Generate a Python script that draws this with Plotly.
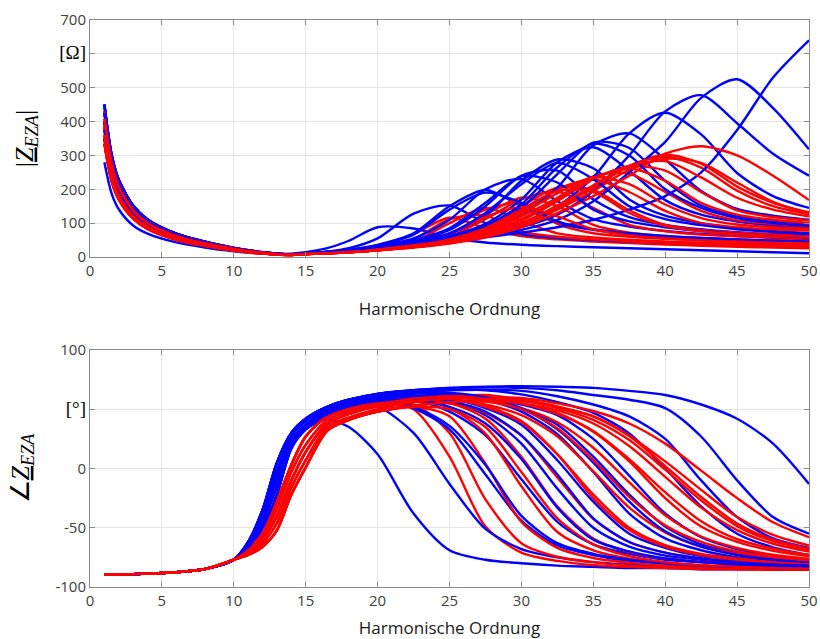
import plotly.graph_objects as go

# ---------------- data ----------------
H_LOW = [1, 1.5, 2, 3, 4, 6, 8, 10, 11, 12, 13, 14]
H_HIGH = [15, 16.5, 18, 20, 22.5, 25, 27.5, 30, 32.5, 35, 37.5, 40, 42.5, 45, 47.5, 50]

# |Z| for h = 1 ... 14
BLUE_MAG_LOW = {
    "early":   [450, 303, 228, 152, 111, 69, 45, 27, 20, 14, 10, 8],
    "em":      [425, 286, 215, 143, 105, 65, 42, 25, 18, 13, 9.5, 7.5],
    "mid":     [400, 270, 203, 135, 99, 61, 40, 24, 17, 12, 9, 7],
    "ml":      [375, 253, 190, 126, 93, 57, 37, 22, 16, 11.5, 8.5, 7],
    "late":    [350, 236, 178, 118, 87, 54, 35, 21, 15, 11, 8, 7],
    "outlier": [280, 188, 141, 93, 69, 43, 28, 17, 13, 10, 9, 10],
}
RED_MAG_LOW = {
    "early": [430, 290, 218, 145, 106, 66, 43, 26, 19, 13, 9, 7],
    "em":    [408, 275, 206, 137, 100, 62, 40, 24, 17, 12.5, 8.5, 7],
    "mid":   [385, 260, 195, 130, 95, 59, 38, 23, 16, 12, 8, 6.5],
    "ml":    [360, 242, 182, 121, 89, 55, 35, 21, 15, 11, 7.5, 6],
    "late":  [335, 225, 170, 113, 83, 51, 33, 19, 14, 10, 7, 6],
}
# angle for h = 1 ... 10 (all curves), then h = 11 ... 14
ANG_START = [-89.6, -89.5, -89.4, -89.1, -88.7, -87.5, -84.8, -77]
BLUE_ANG_RISE = {
    "early":   [-62, -35, 5, 30],
    "em":      [-63, -38, -2, 27],
    "mid":     [-65, -42, -8, 23],
    "ml":      [-67, -46, -15, 20],
    "late":    [-69, -50, -22, 17],
    "outlier": [-65, -42, -8, 20],
}
RED_ANG_RISE = {
    "early": [-68, -55, -28, 3],
    "em":    [-69, -57, -34, -3],
    "mid":   [-70, -60, -40, -10],
    "ml":    [-72, -63, -46, -16],
    "late":  [-73, -66, -52, -22],
}

BLUE_KIND = ["outlier", "late", "mid", "early", "mid", "late", "early",
             "mid", "late", "early", "mid", "early", "early",
             "em", "ml", "em", "ml"]
BLUE_MAG_HIGH = [
    [14, 26, 48, 88, 84, 57, 43, 36, 32, 29, 26, 23, 20, 17, 14, 11],
    [11, 16, 26, 55, 128, 152, 100, 68, 56, 50, 46, 42, 40, 37, 35, 33],
    [11, 15, 21, 36, 70, 150, 198, 150, 100, 80, 68, 60, 55, 51, 47, 44],
    [11, 15, 20, 32, 55, 110, 200, 230, 165, 112, 90, 77, 68, 62, 57, 52],
    [11, 15, 20, 31, 48, 80, 150, 240, 255, 170, 118, 95, 82, 73, 66, 60],
    [11, 15, 20, 30, 44, 68, 120, 225, 288, 262, 170, 122, 100, 86, 77, 70],
    [11, 14, 19, 30, 42, 62, 98, 170, 280, 324, 255, 168, 125, 105, 93, 85],
    [11, 14, 19, 30, 41, 58, 88, 145, 245, 338, 322, 225, 152, 120, 104, 95],
    [11, 14, 19, 29, 40, 55, 80, 125, 205, 330, 365, 288, 195, 142, 122, 110],
    [11, 14, 19, 29, 39, 52, 72, 100, 150, 235, 365, 426, 362, 248, 180, 145],
    [11, 14, 19, 28, 38, 50, 66, 88, 125, 195, 300, 430, 478, 395, 305, 240],
    [11, 15, 20, 28, 37, 47, 60, 80, 110, 165, 250, 340, 470, 525, 440, 318],
    [11, 15, 20, 26, 36, 46, 58, 72, 88, 110, 140, 180, 250, 375, 530, 640],
    [11, 15, 21, 35, 66, 140, 190, 160, 105, 82, 70, 62, 56, 52, 48, 45],
    [11, 15, 20, 31, 50, 85, 160, 238, 220, 140, 105, 88, 77, 69, 63, 58],
    [11, 14, 19, 30, 42, 60, 92, 155, 265, 335, 300, 200, 145, 115, 100, 92],
    [11, 15, 20, 30, 45, 70, 130, 215, 278, 230, 150, 112, 94, 82, 74, 68],
]
BLUE_ANG_HIGH = [
    [35, 41, 35, 12, -38, -69, -77, -80, -82, -83, -84, -84, -85, -85, -85, -85],
    [33, 44, 51, 52, 30, -13, -51, -68, -75, -79, -81, -82.6, -83.6, -84.3, -84.7, -85],
    [37, 48, 55, 59, 51, 33, -5, -44, -65, -73, -78, -80, -82, -83, -84, -84.5],
    [42, 52, 58, 61, 58, 48, 28, -9, -45, -64, -72, -77, -79, -81, -82.5, -83.5],
    [37, 48, 55, 60, 61, 56, 45, 21, -17, -50, -66, -73.5, -77, -80, -81.5, -82.5],
    [33, 44, 51, 57, 60, 59, 51, 37, 7, -28, -55, -67, -74, -77, -79.5, -81],
    [42, 52, 58, 63, 65, 63, 58, 48, 29, -3, -38, -59, -69, -75, -78, -80],
    [37, 48, 55, 61, 63, 63, 58, 50, 37, 10, -22, -49, -64, -71, -75.5, -78],
    [33, 44, 51, 57, 61, 62, 60, 54, 45, 25, -6, -38, -58, -68, -74, -77],
    [42, 52, 58, 63, 66, 67, 66, 62.5, 56, 47, 29.5, 0, -32, -55, -66.5, -73],
    [37, 48, 55, 61, 64, 66, 66.5, 65.5, 61, 54, 44, 25, -10, -41, -59, -67],
    [42, 52, 58, 63, 66, 68, 68.5, 68, 66, 62, 58, 51, 27, -10, -41, -55],
    [42, 52, 58, 63, 66, 68, 69, 69.5, 69, 68, 65.5, 62, 54, 42, 21, -13],
    [40, 50, 57, 60, 52, 36, 3, -40, -63, -72, -77, -80, -82, -83, -84, -84.5],
    [35, 46, 53, 57, 58, 52, 38, 8, -33, -60, -70, -76, -79, -81, -82.5, -83.5],
    [40, 50, 57, 62, 65, 64, 60, 51, 33, 5, -28, -53, -66, -73, -77, -79],
    [35, 46, 53, 59, 61, 57, 48, 28, -5, -42, -62, -71, -76, -79, -81, -82],
]

RED_KIND = ["early", "mid", "late", "early", "mid", "late", "early",
            "mid", "late", "early", "mid", "late", "early", "mid",
            "ml", "em", "em", "ml", "ml"]
RED_MAG_HIGH = [
    [9, 12, 17, 28, 68, 116, 85, 62, 52, 46, 41, 37, 33, 30, 28, 26],
    [9, 12, 16, 26, 52, 112, 122, 75, 60, 52, 47, 42, 38, 35, 33, 31],
    [9, 12, 16, 25, 45, 100, 145, 105, 70, 58, 51, 46, 42, 39, 37, 36],
    [9, 12, 16, 24, 40, 82, 140, 158, 98, 70, 60, 54, 49, 46, 44, 42],
    [9, 12, 15, 23, 37, 68, 125, 175, 150, 95, 72, 62, 56, 52, 50, 48],
    [9, 12, 15, 22, 35, 60, 112, 170, 193, 145, 95, 76, 66, 61, 58, 56],
    [9, 11, 15, 22, 33, 54, 90, 150, 205, 198, 138, 95, 80, 72, 68, 66],
    [9, 11, 15, 21, 32, 50, 82, 135, 200, 229, 192, 136, 100, 88, 82, 78],
    [9, 11, 15, 21, 31, 47, 75, 120, 175, 238, 246, 192, 136, 108, 98, 92],
    [9, 11, 14, 20, 30, 45, 70, 108, 165, 230, 268, 255, 192, 138, 118, 108],
    [9, 11, 14, 20, 29, 42, 62, 95, 145, 205, 268, 302, 276, 208, 160, 132],
    [9, 11, 14, 20, 29, 43, 64, 98, 150, 208, 270, 296, 264, 196, 150, 126],
    [9, 11, 14, 20, 29, 41, 60, 92, 140, 195, 258, 290, 278, 220, 163, 128],
    [9, 11, 14, 20, 28, 40, 58, 88, 130, 180, 240, 305, 327, 300, 240, 168],
    [9, 12, 16, 24, 38, 70, 118, 148, 120, 82, 64, 55, 49, 45, 42, 40],
    [9, 11, 15, 21, 33, 52, 85, 140, 195, 192, 130, 92, 76, 68, 63, 60],
    [9, 11, 15, 21, 31, 48, 78, 128, 188, 236, 215, 155, 115, 96, 88, 84],
    [9, 11, 14, 20, 30, 45, 72, 112, 168, 232, 262, 225, 160, 125, 110, 100],
    [9, 11, 14, 20, 29, 43, 65, 100, 152, 212, 268, 283, 235, 175, 140, 120],
]
RED_ANG_HIGH = [
    [27, 44, 50, 55, 50, 10, -49, -71, -78, -81.5, -83, -84, -85, -85, -85.5, -85.5],
    [14, 38, 46, 52, 54, 30, -26, -63, -74.5, -79, -82, -83.5, -84.3, -84.8, -85.2, -85.4],
    [1, 32, 41, 48, 52, 44, 4, -45, -67, -75.5, -79.4, -82, -83, -84, -84.6, -85],
    [27, 44, 50, 56, 58, 51, 29.5, -15, -53.6, -69, -76, -79.4, -81.6, -83, -83.8, -84.5],
    [14, 38, 46, 53, 56, 55, 42, 10, -32, -59, -70.5, -76, -79, -81, -82.6, -83.6],
    [1, 32, 41, 48, 53, 55, 47, 27.7, -7.5, -42.5, -62, -71, -76, -79, -80.7, -82.2],
    [27, 44, 50, 56, 59, 59, 52, 39, 12, -22, -50, -64.6, -72, -76, -78.8, -80.6],
    [14, 38, 46, 53, 57, 58, 54, 45, 27, -2.5, -33, -54, -66, -72, -76, -78.4],
    [1, 32, 41, 48, 53, 56, 56.5, 51, 39, 17.5, -11.7, -39.5, -57.4, -67, -72.8, -76.2],
    [27, 44, 50, 56, 59, 61, 60, 55, 46, 31.6, 7.8, -20, -44.6, -59.7, -67.7, -73],
    [14, 38, 46, 53, 57, 59, 59.5, 58, 52, 44, 27.4, 2, -24, -46.4, -60, -67.8],
    [1, 32, 41, 48, 53, 56, 57.5, 57, 51, 41, 24, -1, -27, -48.6, -61.3, -68.2],
    [27, 44, 50, 56, 59, 61, 62, 58, 52.3, 44, 27.7, 6, -18, -41, -56, -65],
    [14, 38, 46, 53, 57, 59, 60, 59.5, 55, 48.5, 38, 21, -1.8, -25, -45.4, -58],
    [7, 35, 43, 48, 52, 50, 35, -3, -42, -64, -74, -79, -81.5, -83, -84, -84.5],
    [20, 41, 48, 53, 57, 58, 53, 40, 12, -25, -52, -66, -73, -77, -79.5, -81],
    [20, 41, 48, 54, 59, 60, 57, 50, 34, 7, -24, -48, -62, -70, -74.5, -77.5],
    [7, 35, 43, 50, 56, 59, 59, 55, 47, 31, 6, -25, -49, -62, -69.5, -74],
    [7, 35, 43, 49, 53, 56, 57, 55, 49, 38, 19, -7, -33, -52, -63.5, -70],
]

X_TICKS = [0, 5, 10, 15, 20, 25, 30, 35, 40, 45, 50]
MAG_TICKS = [0, 100, 200, 300, 400, 500, 600, 700]
MAG_TICKTEXT = ["0", "100", "200", "300", "400", "500", "[Ω]", "700"]
ANG_TICKS = [-100, -50, 0, 50, 100]
ANG_TICKTEXT = ["-100", "-50", "0", "[°]", "100"]

BLUE = "#0000ff"
RED = "#ff0000"

# ---------------- figure ----------------
H_ALL = H_LOW + H_HIGH
fig = go.Figure()


def add_curve(mag, ang, color):
    line = dict(color=color, width=2.4, shape="spline", smoothing=0.8)
    fig.add_trace(go.Scatter(x=H_ALL, y=mag, mode="lines", line=line,
                             xaxis="x", yaxis="y", showlegend=False,
                             hoverinfo="skip"))
    fig.add_trace(go.Scatter(x=H_ALL, y=ang, mode="lines", line=line,
                             xaxis="x2", yaxis="y2", showlegend=False,
                             hoverinfo="skip"))


n = max(len(BLUE_KIND), len(RED_KIND))
for i in range(n):
    if i < len(BLUE_KIND):
        k = BLUE_KIND[i]
        add_curve(BLUE_MAG_LOW[k] + BLUE_MAG_HIGH[i],
                  ANG_START + BLUE_ANG_RISE[k] + BLUE_ANG_HIGH[i], BLUE)
    if i < len(RED_KIND):
        k = RED_KIND[i]
        add_curve(RED_MAG_LOW[k] + RED_MAG_HIGH[i],
                  ANG_START + RED_ANG_RISE[k] + RED_ANG_HIGH[i], RED)

tick_font = dict(family="Open Sans, sans-serif", size=15, color="#404040")
title_font = dict(family="Open Sans, sans-serif", size=17, color="#1a1a1a")
frame = "#8a8a8a"
grid = "#e4e4e4"


def xaxis(anchor, standoff):
    return dict(range=[0, 50], tickmode="array", tickvals=X_TICKS,
                showgrid=True, gridcolor=grid, gridwidth=1, zeroline=False,
                showline=True, linecolor=frame, linewidth=1, mirror="ticks",
                ticks="inside", ticklen=5, tickcolor=frame, tickfont=tick_font,
                anchor=anchor, automargin=False,
                title=dict(text="Harmonische Ordnung", font=title_font,
                           standoff=standoff))


def wrap(t):
    if t.startswith("["):
        return ("<span style='font-family:Liberation Serif;font-size:19px;"
                "color:#000000'>" + t + "</span>")
    return t


def yaxis(domain, rng, vals, texts, anchor, title):
    return dict(domain=domain, range=rng, tickmode="array", tickvals=vals,
                ticktext=[wrap(t) for t in texts],
                showgrid=True, gridcolor=grid, gridwidth=1, zeroline=False,
                showline=True, linecolor=frame, linewidth=1, mirror="ticks",
                ticks="inside", ticklen=5, tickcolor=frame, tickfont=tick_font,
                anchor=anchor, automargin=False,
                title=dict(text=title,
                           font=dict(family="Liberation Serif, serif", size=26,
                                     color="#000000"), standoff=18))


# plot areas: top 20..257 px, bottom 350..587 px (of 639)
H_FIG = 639
T, B = 20, 52
ph = H_FIG - T - B
top_dom = [(H_FIG - B - 257) / ph, 1.0]
bot_dom = [0.0, (H_FIG - B - 350) / ph]

fig.update_layout(
    width=820, height=H_FIG,
    margin=dict(l=90, r=11, t=T, b=B),
    paper_bgcolor="white", plot_bgcolor="white",
    showlegend=False,
    xaxis=xaxis("y", 24),
    xaxis2=xaxis("y2", 14),
    yaxis=yaxis(top_dom, [0, 700], MAG_TICKS, MAG_TICKTEXT, "x",
                "|<u><i>Z</i></u><sub><i>EZA</i></sub>|"),
    yaxis2=yaxis(bot_dom, [-100, 100], ANG_TICKS, ANG_TICKTEXT, "x2",
                 "∠<u><i>Z</i></u><sub><i>EZA</i></sub>"),
)

fig.write_html("out.html")
